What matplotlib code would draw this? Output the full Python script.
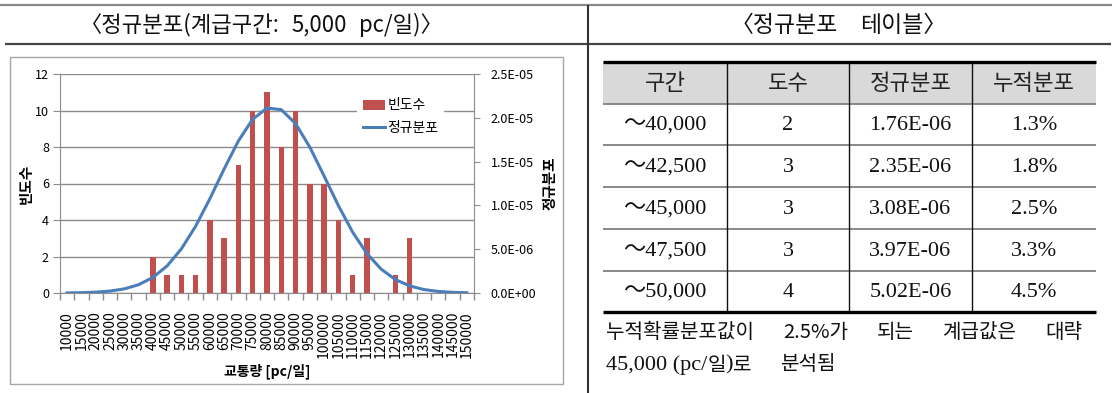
import matplotlib
matplotlib.use("Agg")
import matplotlib.pyplot as plt
from matplotlib.lines import Line2D
from matplotlib.patches import Rectangle, Patch
from matplotlib.ticker import FuncFormatter, FixedLocator

plt.rcParams['font.family'] = ['Noto Sans CJK KR', 'DejaVu Sans']

# ---- histogram data (class upper bound, frequency, normal density) ----
classes = [10000, 15000, 20000, 25000, 30000, 35000, 40000, 45000, 50000,
           55000, 60000, 65000, 70000, 75000, 80000, 85000, 90000, 95000,
           100000, 105000, 110000, 115000, 120000, 125000, 130000, 135000,
           140000, 145000, 150000]
freq = [0, 0, 0, 0, 0, 0, 2, 1, 1, 1, 4, 3, 7, 10, 11, 8, 10, 6, 6, 4, 1, 3,
        0, 1, 3, 0, 0, 0, 0]
density = [1.4e-08, 3.8e-08, 9.4e-08, 2.18e-07, 4.70e-07, 9.45e-07, 1.77e-06,
           3.09e-06, 5.03e-06, 7.62e-06, 1.077e-05, 1.417e-05, 1.737e-05,
           1.984e-05, 2.111e-05, 2.093e-05, 1.934e-05, 1.665e-05, 1.335e-05,
           9.98e-06, 6.94e-06, 4.50e-06, 2.72e-06, 1.53e-06, 8.04e-07,
           3.93e-07, 1.79e-07, 7.6e-08, 3.0e-08]

# ---- table data ----
tbl_header = ['구간', '도수', '정규분포', '누적분포']
tbl_interval = ['～40,000', '～42,500', '～45,000', '～47,500', '～50,000']
tbl_count = ['2', '3', '3', '3', '4']
tbl_pdf = ['1.76E-06', '2.35E-06', '3.08E-06', '3.97E-06', '5.02E-06']
tbl_cum = ['1.3%', '1.8%', '2.5%', '3.3%', '4.5%']

W, H = 1112, 393
fig = plt.figure(figsize=(W / 100, H / 100), dpi=100)
renderer = fig.canvas.get_renderer()

# page overlay in pixel coordinates (frames, titles, table)
ov = fig.add_axes([0, 0, 1, 1], zorder=0)
ov.set_xlim(0, W)
ov.set_ylim(H, 0)
ov.axis('off')

serif = ['Liberation Serif', 'Noto Sans CJK KR']
INK = '#111111'


def text_width(t):
    return t.get_window_extent(renderer).width


def run_of_text(pieces, x, y):
    """Lay out consecutive text pieces left to right starting at x."""
    for s, kw in pieces:
        t = ov.text(x, y, s, ha='left', va='center', color=INK, **kw)
        x += text_width(t)
    return x


def justified(words, x_start, x_end, y, **kw):
    """Spread words evenly between x_start and x_end."""
    texts = [ov.text(0, y, w, ha='left', va='center', color=INK, **kw)
             for w in words]
    widths = [text_width(t) for t in texts]
    gap = (x_end - x_start - sum(widths)) / (len(words) - 1)
    x = x_start
    for t, w in zip(texts, widths):
        t.set_x(x)
        x += w + gap


# top rule, title underline, vertical divider
ov.plot([0, W], [5, 5], color='#8a8a8a', lw=1.6, solid_capstyle='butt')
ov.plot([5, W - 1], [44, 44], color='#444444', lw=1.6, solid_capstyle='butt')
ov.plot([588, 588], [5, H], color='#333333', lw=1.5, solid_capstyle='butt')

justified(['〈정규분포(계급구간:', '5,000', 'pc/일)〉'], 80, 443, 25,
          fontsize=16)
justified(['〈정규분포', '테이블〉'], 731, 946, 25, fontsize=16.5)

# chart frame
ov.add_patch(Rectangle((10, 57), 553, 327, fill=False, ec='#a6a6a6', lw=1.0))

# ---- table ----
col_edges = [603, 727, 849, 972, 1096]
row_edges = [62, 104, 145, 187, 229, 271, 312]
ov.add_patch(Rectangle((col_edges[0], row_edges[0]),
                       col_edges[-1] - col_edges[0], row_edges[1] - row_edges[0],
                       fc='#d9d9d9', ec='none'))
for y in row_edges[1:-1]:
    ov.plot([col_edges[0], col_edges[-1]], [y, y], color='#7f7f7f', lw=1.3,
            solid_capstyle='butt')
for x in col_edges[1:-1]:
    ov.plot([x, x], [row_edges[0], row_edges[-1]], color='#111111', lw=1.0,
            solid_capstyle='butt')
for y in (row_edges[0], row_edges[-1]):
    ov.plot([col_edges[0], col_edges[-1]], [y, y], color='#000000', lw=2.4,
            solid_capstyle='butt')

centers = [(col_edges[i] + col_edges[i + 1]) / 2 for i in range(4)]
hdr_y = (row_edges[0] + row_edges[1]) / 2
for cx, h in zip(centers, tbl_header):
    ov.text(cx, hdr_y + 1, h, fontsize=16, ha='center', va='center',
            color='#222222')
for r in range(len(tbl_interval)):
    cy = (row_edges[r + 1] + row_edges[r + 2]) / 2 + 1
    row = [tbl_interval[r], tbl_count[r], tbl_pdf[r], tbl_cum[r]]
    for cx, s in zip(centers, row):
        ov.text(cx, cy, s, fontsize=16, ha='center', va='center',
                family=serif, color=INK)

# note under the table
justified(['누적확률분포값이', '2.5%가', '되는', '계급값은', '대략'],
          606, 1082, 333, fontsize=14.5)
run_of_text([('45,000 (pc/', dict(fontsize=16, family=serif)),
             ('일', dict(fontsize=14.5)),
             (')', dict(fontsize=16, family=serif)),
             ('로', dict(fontsize=14.5))], 606, 365)
ov.text(780, 365, '분석됨', fontsize=14.5, ha='left', va='center', color=INK)

# ---- chart ----
x0, x1, y_top, y_bot = 60, 474, 74, 293
ax = fig.add_axes([x0 / W, (H - y_bot) / H, (x1 - x0) / W, (y_bot - y_top) / H],
                  zorder=1)
ax.set_facecolor('none')
idx = list(range(len(classes)))
ax.bar(idx, freq, width=0.38, color='#c0504d', zorder=2)
ax.set_xlim(-0.5, len(classes) - 0.5)
ax.set_ylim(0, 12)
ax.set_yticks(range(0, 13, 2))
ax.set_axisbelow(True)
ax.yaxis.grid(True, color='#8c8c8c', lw=1.0)

ax.xaxis.set_major_locator(FixedLocator([i - 0.5 for i in range(len(classes) + 1)]))
ax.xaxis.set_minor_locator(FixedLocator(idx))
ax.xaxis.set_major_formatter(FuncFormatter(lambda v, p: ''))
ax.set_xticklabels([str(c) for c in classes], minor=True, rotation=90,
                   fontsize=10)
ax.tick_params(axis='x', which='major', direction='out', length=5,
               color='#8c8c8c', width=1)
ax.tick_params(axis='x', which='minor', length=0, pad=13)
ax.tick_params(axis='y', direction='out', length=5, color='#8c8c8c',
               labelsize=9, pad=3)
for s in ('top', 'right'):
    ax.spines[s].set_visible(False)
for s in ('left', 'bottom'):
    ax.spines[s].set_color('#8c8c8c')

ax.set_ylabel('빈도수', fontsize=10.5, fontweight='bold', labelpad=1)
ax.set_xlabel('교통량 [pc/일]', fontsize=10, fontweight='bold', labelpad=4)

ax2 = ax.twinx()
ax2.plot(idx, density, color='#4a7ebb', lw=2.2, zorder=3)
ax2.set_ylim(0, 2.5e-5)
ax2.set_yticks([0, 5e-6, 1e-5, 1.5e-5, 2e-5, 2.5e-5])
ax2.yaxis.set_major_formatter(FuncFormatter(lambda v, p: f'{v:.1E}'))
ax2.tick_params(axis='y', direction='out', length=4, color='#8c8c8c',
                labelsize=9, pad=8)
for s in ('top', 'left', 'bottom'):
    ax2.spines[s].set_visible(False)
ax2.spines['right'].set_color('#8c8c8c')
ax2.set_ylabel('정규분포', fontsize=10.5, fontweight='bold', rotation=90,
               labelpad=4)

handles = [Patch(fc='#c0504d', ec='none'),
           Line2D([], [], color='#4a7ebb', lw=2.2)]
leg = ax2.legend(handles, ['빈도수', '정규분포'], loc='upper left',
                 bbox_to_anchor=(350 / W, 1 - 86 / H),
                 bbox_transform=fig.transFigure, frameon=True, fontsize=10,
                 handlelength=1.6, handleheight=0.7, handletextpad=0.2,
                 labelspacing=0.6, borderpad=0.4, fancybox=False)
leg.get_frame().set_facecolor('white')
leg.get_frame().set_edgecolor('none')
leg.get_frame().set_alpha(1)

fig.savefig('out.png', dpi=100)
